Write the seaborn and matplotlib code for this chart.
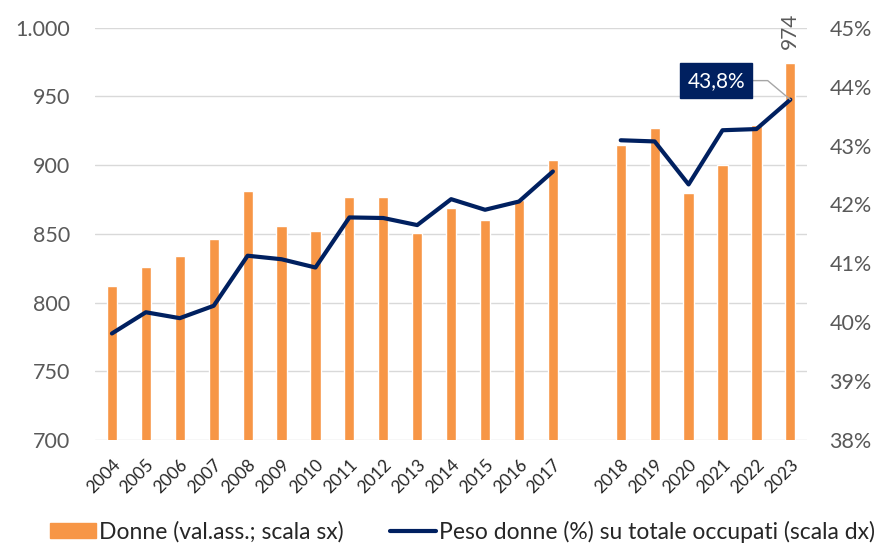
import numpy as np
import pandas as pd
import seaborn as sns
import matplotlib.pyplot as plt
from matplotlib.patches import Patch
from matplotlib.lines import Line2D
from matplotlib.ticker import FuncFormatter

# Data
years_a = [str(y) for y in range(2004, 2018)]
years_b = [str(y) for y in range(2018, 2024)]
donne_a = [812, 826, 834, 846, 881, 856, 852, 877, 877, 851, 869, 860, 875, 904]
donne_b = [915, 927, 880, 900, 929, 974]
peso_a = [39.81, 40.17, 40.07, 40.28, 41.13, 41.07, 40.93, 41.78, 41.77, 41.65,
          42.09, 41.91, 42.05, 42.56]
peso_b = [43.09, 43.07, 42.34, 43.26, 43.28, 43.78]

# one empty slot between 2017 and 2018
categories = years_a + [""] + years_b
values = donne_a + [np.nan] + donne_b

ORANGE = "#F79646"
NAVY = "#002060"
GREY = "#595959"

sns.set_theme(style="white")
plt.rcParams["font.family"] = ["Lato", "DejaVu Sans"]

df = pd.DataFrame({"anno": categories, "donne": values})

fig, ax = plt.subplots(figsize=(8.96, 5.44), dpi=100)
fig.subplots_adjust(left=0.106, right=0.901, top=0.949, bottom=0.191)

sns.barplot(data=df, x="anno", y="donne", order=categories, color=ORANGE,
            saturation=1, width=0.3, ax=ax)
ax.set_ylim(700, 1000)
ax.set_yticks(range(700, 1001, 50))
ax.yaxis.set_major_formatter(FuncFormatter(lambda v, p: f"{int(v):,}".replace(",", ".")))
ax.grid(axis="y", color="#D9D9D9", linewidth=1)
ax.set_axisbelow(True)
ax.set_xlabel("")
ax.set_ylabel("")
ax.tick_params(axis="y", labelsize=15.5, labelcolor=GREY, length=0, pad=18)
ax.tick_params(axis="x", labelsize=12.5, labelcolor="#262626", length=0, pad=12)
for lab in ax.get_xticklabels():
    lab.set_rotation(45)
    lab.set_ha("right")
    lab.set_rotation_mode("anchor")
for s in ax.spines.values():
    s.set_visible(False)

ax2 = ax.twinx()
pos_a = list(range(len(years_a)))
pos_b = list(range(len(years_a) + 1, len(categories)))
sns.lineplot(x=pos_a, y=peso_a, color=NAVY, linewidth=3, ax=ax2)
sns.lineplot(x=pos_b, y=peso_b, color=NAVY, linewidth=3, ax=ax2)
ax2.set_ylim(38, 45)
ax2.set_yticks(range(38, 46))
ax2.yaxis.set_major_formatter(FuncFormatter(lambda v, p: f"{int(v)}%"))
ax2.tick_params(axis="y", labelsize=15.5, labelcolor=GREY, length=0, pad=16)
for s in ax2.spines.values():
    s.set_visible(False)
ax2.grid(False)
ax.set_xlim(-0.5, len(categories) - 0.5)

# labels on the last year
last = len(categories) - 1
ax.annotate(f"{donne_b[-1]}", xy=(last, donne_b[-1]), xytext=(0, 14),
            textcoords="offset pixels", rotation=90, ha="center", va="bottom",
            fontsize=15, color=GREY)
ax2.annotate(f"{peso_b[-1]:.1f}%".replace(".", ","),
             xy=(last, peso_b[-1]), xytext=(-74, 19), textcoords="offset pixels",
             ha="center", va="center", fontsize=15, color="white",
             bbox=dict(boxstyle="square,pad=0.35", fc=NAVY, ec=NAVY),
             arrowprops=dict(arrowstyle="-", color="#A6A6A6", lw=1,
                             relpos=(1, 0.5), shrinkA=0, shrinkB=0,
                             connectionstyle="angle,angleA=0,angleB=140,rad=0"))

handles = [Patch(color=ORANGE, label="Donne (val.ass.; scala sx)"),
           Line2D([0], [0], color=NAVY, lw=3,
                  label="Peso donne (%) su totale occupati (scala dx)")]
fig.legend(handles=handles, loc="center left", bbox_to_anchor=(0.056, 0.023),
           ncol=2, frameon=False, fontsize=16.5, handlelength=2.0,
           handleheight=0.6, handletextpad=0.15, columnspacing=2.0,
           borderpad=0, borderaxespad=0, labelcolor="#262626")

plt.savefig("out.png", dpi=100)
